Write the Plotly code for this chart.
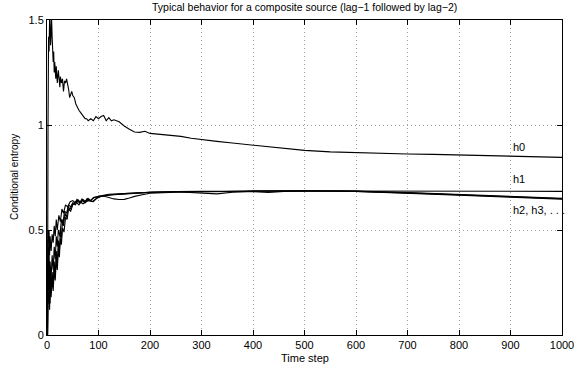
import plotly.graph_objects as go

# ---- data ----
t_h0 = [0, 1, 2, 3, 4, 5, 6, 7, 8, 9, 10, 11, 12, 13, 14, 15, 16, 17, 18, 19, 20, 22, 24, 25, 26, 28, 30,
        32, 34, 36, 38, 40, 42, 44, 46, 48, 50, 53, 56, 59, 62, 65, 68, 71, 74, 77, 80, 85, 90, 95, 100,
        105, 110, 115, 120, 125, 130, 140, 150, 160, 170, 180, 190, 200, 220, 240, 260, 280, 300, 330,
        360, 400, 450, 500, 550, 600, 650, 700, 750, 800, 850, 900, 950, 1000]
h0 = [0, 0, 1.0, 1.42, 1.35, 1.5, 1.5, 1.38, 1.45, 1.5, 1.42, 1.33, 1.30, 1.35, 1.25, 1.30, 1.26, 1.22, 1.28,
      1.24, 1.20, 1.26, 1.21, 1.18, 1.23, 1.20, 1.22, 1.16, 1.21, 1.20, 1.22, 1.20, 1.17, 1.13, 1.15, 1.16,
      1.14, 1.13, 1.10, 1.08, 1.07, 1.06, 1.05, 1.04, 1.03, 1.03, 1.02, 1.03, 1.02, 1.04, 1.03, 1.04, 1.045,
      1.02, 1.035, 1.02, 1.025, 1.015, 0.995, 0.98, 0.967, 0.965, 0.97, 0.96, 0.955, 0.952, 0.946, 0.937,
      0.93, 0.922, 0.914, 0.904, 0.89, 0.879, 0.872, 0.868, 0.865, 0.862, 0.86, 0.857, 0.855, 0.852, 0.849,
      0.846]

t_h1 = [0, 1, 2, 3, 4, 5, 6, 8, 10, 12, 14, 16, 18, 20, 23, 26, 29, 32, 36, 40, 45, 50, 55, 60, 65, 70,
        75, 80, 85, 90, 100, 110, 120, 140, 160, 180, 200, 250, 300, 400, 500, 600, 700, 800, 900, 1000]
h1 = [0, 0, 0.50, 0.44, 0.50, 0.38, 0.47, 0.40, 0.48, 0.44, 0.52, 0.47, 0.55, 0.50, 0.57, 0.54, 0.60, 0.58,
      0.62, 0.61, 0.635, 0.64, 0.63, 0.645, 0.63, 0.645, 0.635, 0.65, 0.64, 0.655, 0.66, 0.665, 0.67, 0.672,
      0.675, 0.678, 0.68, 0.682, 0.684, 0.685, 0.686, 0.686, 0.685, 0.685, 0.684, 0.684]

t_h2 = [0, 1, 2, 3, 4, 5, 6, 7, 8, 10, 12, 14, 16, 18, 20, 22, 24, 26, 28, 30, 32, 35, 38, 41, 45, 50, 55,
        60, 70, 80, 90, 100, 110, 120, 130, 140, 150, 160, 170, 185, 200, 250, 300, 400, 500, 560, 600,
        700, 800, 900, 1000]
h2 = [0, 0, 0.20, 0.35, 0.18, 0.32, 0.15, 0.28, 0.20, 0.30, 0.24, 0.35, 0.28, 0.40, 0.33, 0.45, 0.40, 0.50,
      0.46, 0.55, 0.52, 0.58, 0.56, 0.61, 0.60, 0.625, 0.62, 0.64, 0.625, 0.64, 0.635, 0.66, 0.662, 0.655,
      0.648, 0.645, 0.646, 0.652, 0.66, 0.668, 0.675, 0.68, 0.683, 0.686, 0.687, 0.686, 0.684, 0.677,
      0.667, 0.658, 0.649]

t_h3 = [0, 1, 2, 3, 4, 5, 6, 8, 10, 12, 14, 16, 18, 20, 22, 24, 26, 28, 30, 33, 36, 39, 42, 46, 50, 56,
        62, 68, 74, 80, 88, 96, 105, 115, 130, 150, 175, 200, 250, 300, 330, 360, 400, 500, 560, 600, 700,
        800, 900, 1000]
h3 = [0, 0, 0.35, 0.15, 0.28, 0.12, 0.25, 0.18, 0.27, 0.21, 0.31, 0.26, 0.36, 0.31, 0.41, 0.37, 0.46, 0.43,
      0.51, 0.49, 0.56, 0.55, 0.60, 0.59, 0.62, 0.635, 0.62, 0.64, 0.63, 0.645, 0.635, 0.65, 0.66, 0.665,
      0.668, 0.672, 0.676, 0.679, 0.682, 0.676, 0.672, 0.68, 0.685, 0.687, 0.687, 0.685, 0.678, 0.668,
      0.66, 0.651]

t_h4 = [0, 1, 2, 3, 4, 5, 6, 8, 10, 12, 14, 16, 18, 20, 22, 25, 28, 31, 34, 38, 42, 46, 50, 54, 58, 63,
        68, 73, 78, 84, 92, 100, 110, 125, 150, 175, 200, 250, 300, 400, 430, 460, 500, 560, 600, 700, 800,
        900, 1000]
h4 = [0, 0, 0.45, 0.30, 0.42, 0.22, 0.35, 0.27, 0.38, 0.31, 0.42, 0.36, 0.47, 0.42, 0.50, 0.47, 0.55, 0.53,
      0.59, 0.58, 0.62, 0.61, 0.63, 0.625, 0.645, 0.628, 0.648, 0.632, 0.65, 0.64, 0.655, 0.658, 0.665,
      0.668, 0.673, 0.677, 0.68, 0.683, 0.684, 0.682, 0.679, 0.684, 0.686, 0.686, 0.684, 0.676, 0.666,
      0.656, 0.647]

x_ticks = [0, 100, 200, 300, 400, 500, 600, 700, 800, 900, 1000]
y_ticks = [0, 0.5, 1, 1.5]
y_tick_text = ["0", "0.5", "1", "1.5"]

labels = ["h0", "h1", "h2, h3, . . ."]
label_x = [900, 900, 900]
label_y = [0.895, 0.743, 0.597]

series = [(t_h0, h0), (t_h1, h1), (t_h2, h2), (t_h3, h3), (t_h4, h4)]

# ---- figure ----
FONT = "Liberation Sans, Arial, Helvetica, sans-serif"
fig = go.Figure()
for tx, vy in series:
    fig.add_trace(go.Scatter(x=tx, y=vy, mode="lines",
                             line=dict(color="black", width=1.1),
                             showlegend=False, hoverinfo="skip"))

for txt, lx, ly in zip(labels, label_x, label_y):
    fig.add_annotation(x=lx, y=ly, text=txt, showarrow=False, xanchor="left",
                       yanchor="middle", font=dict(family=FONT, size=11, color="black"))

fig.add_annotation(x=0.5, y=1, xref="paper", yref="paper", text="Typical behavior for a composite source (lag−1 followed by lag−2)",
                   showarrow=False, yanchor="bottom", yshift=5, font=dict(family=FONT, size=10.5, color="black"))
fig.add_annotation(x=0.5, y=0, xref="paper", yref="paper", text="Time step",
                   showarrow=False, yanchor="top", yshift=-15, font=dict(family=FONT, size=11, color="black"))
fig.add_annotation(x=0, y=0.5, xref="paper", yref="paper", text="Conditional entropy", textangle=-90,
                   showarrow=False, xanchor="right", xshift=-25, font=dict(family=FONT, size=10, color="black"))

axis_common = dict(showline=True, linecolor="black", linewidth=1, mirror="ticks",
                   ticks="inside", ticklen=5, tickcolor="black", showgrid=True,
                   gridcolor="#a0a0a0", gridwidth=1, griddash="1px,3px", zeroline=False,
                   automargin=False,
                   tickfont=dict(family=FONT, size=11, color="black"))

fig.update_xaxes(range=[0, 1000], tickvals=x_ticks, **axis_common)
fig.update_yaxes(range=[0, 1.5], tickvals=y_ticks, ticktext=y_tick_text, **axis_common)

fig.update_layout(width=576, height=368, margin=dict(l=47, r=14, t=20, b=33),
                  plot_bgcolor="white", paper_bgcolor="white", showlegend=False)

fig.write_html("out.html", config={"displayModeBar": False},
               post_script="document.body.style.margin='0px';")
